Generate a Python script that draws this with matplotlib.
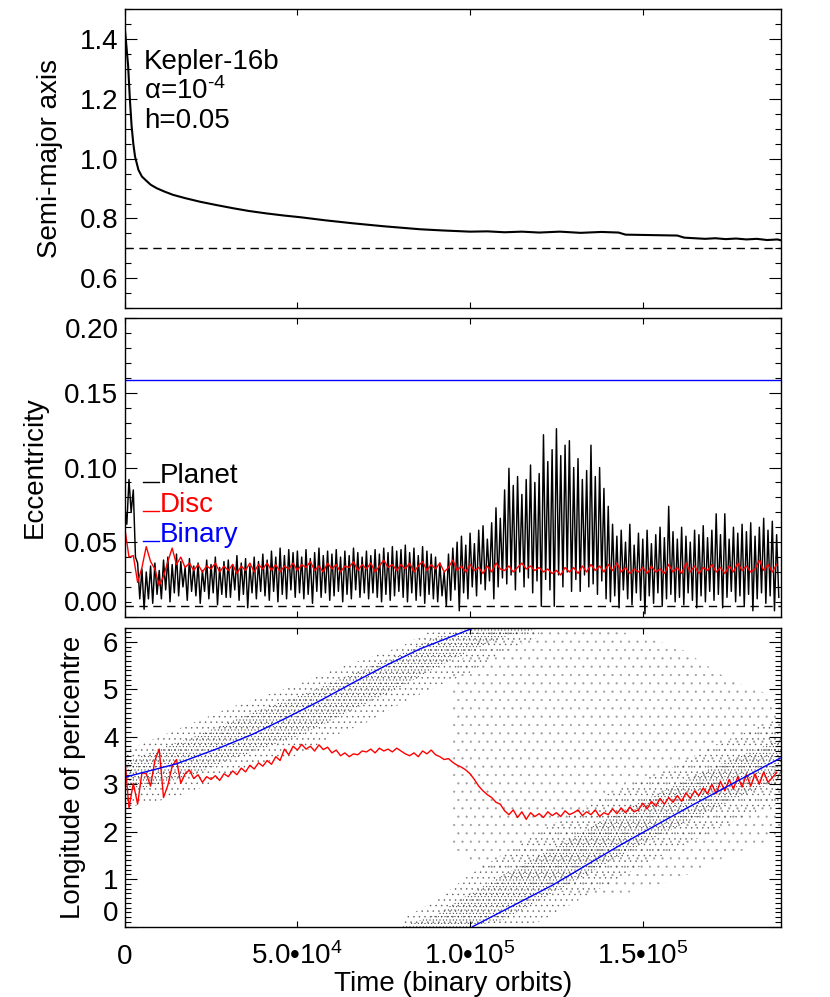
import numpy as np
import matplotlib
matplotlib.use('Agg')
import matplotlib.pyplot as plt
import matplotlib.transforms as mtransforms
from matplotlib.ticker import MultipleLocator, FuncFormatter

plt.rcParams['font.family'] = ['Liberation Sans', 'DejaVu Sans']
plt.rcParams['mathtext.fontset'] = 'custom'
plt.rcParams['mathtext.rm'] = 'Liberation Sans'
plt.rcParams['mathtext.it'] = 'Liberation Sans:italic'
plt.rcParams['hatch.linewidth'] = 0.3
FS = 20

# semi-major axis of the planet ----------------------------------------------------------------------------------------
sma_t = [0, 400, 1000, 1500, 2000, 2500, 3000, 4000, 5000, 6000, 7500, 9300, 11500, 14000, 17500, 21800,
         26500, 31500, 36000, 41000, 46000, 51000, 58000, 66000, 75000, 85500, 92000, 100000, 105000, 110000,
         115000, 120000, 126000, 132000, 138000, 143000, 145000, 150000, 155000, 160000, 162000, 165000, 168000,
         171000, 174000, 177000, 180000, 183000, 186000, 189000, 190000]
sma_a = [1.44, 1.39, 1.31, 1.20, 1.11, 1.05, 1.007, 0.962, 0.940, 0.929, 0.913, 0.901, 0.890, 0.879, 0.868, 0.856,
         0.845, 0.834, 0.825, 0.817, 0.810, 0.804, 0.794, 0.784, 0.774, 0.764, 0.760, 0.756, 0.757, 0.754,
         0.756, 0.753, 0.756, 0.752, 0.755, 0.753, 0.746, 0.745, 0.744, 0.743, 0.736, 0.734, 0.732,
         0.734, 0.731, 0.733, 0.730, 0.732, 0.728, 0.730, 0.727]
sma_ref = 0.7

# eccentricities, sampled every 1250 orbits (planet: peak and trough of each sample) -----------------------------------
ecc_t = np.arange(0, 190000, 1250)
planet_hi = [0.075, 0.092, 0.085, 0.036, 0.032, 0.030, 0.034, 0.036,
             0.031, 0.038, 0.040, 0.035, 0.042, 0.037, 0.033, 0.039,
             0.034, 0.036, 0.031, 0.038, 0.035, 0.040, 0.033, 0.037,
             0.038, 0.035, 0.041, 0.036, 0.039, 0.034, 0.040, 0.037,
             0.042, 0.038, 0.044, 0.040, 0.046, 0.041, 0.045, 0.043,
             0.044, 0.040, 0.045, 0.039, 0.043, 0.046, 0.041, 0.044,
             0.042, 0.045, 0.040, 0.044, 0.041, 0.046, 0.043, 0.040,
             0.044, 0.041, 0.045, 0.042, 0.046, 0.043, 0.047, 0.044,
             0.045, 0.048, 0.043, 0.046, 0.041, 0.047, 0.044, 0.042,
             0.040, 0.036, 0.030, 0.042, 0.046, 0.050, 0.054, 0.048,
             0.056, 0.049, 0.058, 0.061, 0.052, 0.063, 0.073, 0.066,
             0.085, 0.0995, 0.088, 0.094, 0.082, 0.092, 0.1017, 0.090,
             0.096, 0.122, 0.104, 0.112, 0.126, 0.108, 0.115, 0.118,
             0.100, 0.106, 0.092, 0.098, 0.115, 0.094, 0.100, 0.086,
             0.074, 0.062, 0.054, 0.058, 0.050, 0.062, 0.048, 0.056,
             0.052, 0.058, 0.049, 0.055, 0.060, 0.053, 0.074, 0.057,
             0.052, 0.060, 0.054, 0.050, 0.058, 0.055, 0.061, 0.053,
             0.058, 0.069, 0.055, 0.069, 0.052, 0.060, 0.056, 0.062,
             0.057, 0.063, 0.054, 0.060, 0.066, 0.058, 0.064, 0.055]
planet_lo = [0.062, 0.070, 0.040, 0.012, 0.005, 0.012, 0.009, 0.015,
             0.012, 0.018, 0.010, 0.016, 0.014, 0.020, 0.011, 0.017,
             0.014, 0.009, 0.017, 0.012, 0.016, 0.008, 0.015, 0.013,
             0.013, 0.018, 0.011, 0.015, 0.006, 0.016, 0.012, 0.017,
             0.014, 0.011, 0.017, 0.010, 0.015, 0.012, 0.018, 0.013,
             0.016, 0.012, 0.015, 0.009, 0.017, 0.013, 0.016, 0.011,
             0.014, 0.017, 0.010, 0.015, 0.012, 0.018, 0.013, 0.016,
             0.012, 0.016, 0.013, 0.010, 0.015, 0.011, 0.014, 0.017,
             0.013, 0.010, 0.016, 0.011, 0.014, 0.009, 0.015, 0.012,
             0.010, 0.014, 0.007, 0.011, 0.018, 0.004, 0.016, 0.012,
             0.020, 0.014, 0.022, 0.018, 0.024, 0.012, 0.020, 0.026,
             0.022, 0.028, 0.018, 0.030, 0.020, 0.026, 0.016, 0.024,
             0.007, 0.025, 0.018, 0.007, 0.028, 0.020, 0.030, 0.017,
             0.025, 0.017, 0.028, 0.020, 0.022, 0.015, 0.024, 0.012,
             0.010, 0.014, 0.006, 0.018, 0.012, 0.008, 0.016, 0.011,
             0.002, 0.014, 0.009, 0.016, 0.007, 0.012, 0.015, 0.010,
             0.013, 0.008, 0.016, 0.011, 0.006, 0.014, 0.010, 0.017,
             0.011, 0.015, 0.006, 0.013, 0.017, 0.010, 0.014, 0.007,
             0.015, 0.004, 0.012, 0.016, 0.009, 0.014, 0.004, 0.013]
disc_ecc = [0.060, 0.040, 0.041, 0.023, 0.033, 0.047, 0.037, 0.032,
            0.021, 0.027, 0.037, 0.046, 0.035, 0.040, 0.033, 0.036,
            0.031, 0.035, 0.030, 0.034, 0.032, 0.036, 0.030, 0.034,
            0.031, 0.035, 0.029, 0.034, 0.031, 0.036, 0.030, 0.035,
            0.032, 0.036, 0.031, 0.035, 0.030, 0.034, 0.032, 0.036,
            0.031, 0.035, 0.033, 0.037, 0.031, 0.034, 0.030, 0.036,
            0.032, 0.035, 0.030, 0.034, 0.033, 0.037, 0.031, 0.035,
            0.032, 0.036, 0.030, 0.034, 0.038, 0.033, 0.035, 0.031,
            0.035, 0.032, 0.036, 0.030, 0.034, 0.037, 0.031, 0.035,
            0.032, 0.036, 0.030, 0.033, 0.038, 0.031, 0.034, 0.030,
            0.035, 0.031, 0.033, 0.029, 0.034, 0.030, 0.036, 0.032,
            0.031, 0.034, 0.030, 0.033, 0.036, 0.032, 0.034, 0.031,
            0.033, 0.030, 0.032, 0.029, 0.031, 0.028, 0.033, 0.030,
            0.033, 0.029, 0.034, 0.030, 0.035, 0.031, 0.034, 0.030,
            0.035, 0.031, 0.036, 0.030, 0.033, 0.029, 0.032, 0.030,
            0.033, 0.029, 0.034, 0.030, 0.032, 0.029, 0.035, 0.030,
            0.033, 0.029, 0.036, 0.030, 0.034, 0.029, 0.033, 0.031,
            0.035, 0.030, 0.033, 0.029, 0.034, 0.030, 0.036, 0.031,
            0.034, 0.030, 0.032, 0.038, 0.031, 0.035, 0.030, 0.035]
binary_ecc = 0.159
ecc_ref = 0.007

# longitude of pericentre ----------------------------------------------------------------------------------------------
disc_varpi = [3.57, 2.50, 3.02, 2.58, 3.24, 3.22, 2.96, 3.50,
              3.74, 2.72, 2.98, 3.38, 3.52, 3.02, 3.22, 3.30,
              3.12, 3.20, 3.04, 3.16, 3.10, 3.18, 3.08, 3.22,
              3.16, 3.28, 3.20, 3.34, 3.26, 3.40, 3.32, 3.45,
              3.38, 3.50, 3.42, 3.58, 3.50, 3.74, 3.62, 3.80,
              3.72, 3.84, 3.74, 3.80, 3.70, 3.83, 3.73, 3.78,
              3.66, 3.72, 3.60, 3.66, 3.58, 3.64, 3.62, 3.70,
              3.68, 3.74, 3.66, 3.76, 3.70, 3.74, 3.68, 3.76,
              3.70, 3.64, 3.60, 3.66, 3.58, 3.70, 3.64, 3.72,
              3.62, 3.58, 3.52, 3.54, 3.46, 3.40, 3.36, 3.30,
              3.22, 3.10, 2.96, 2.86, 2.78, 2.72, 2.62, 2.58,
              2.44, 2.36, 2.46, 2.30, 2.42, 2.26, 2.40, 2.32,
              2.38, 2.30, 2.42, 2.34, 2.40, 2.32, 2.44, 2.36,
              2.40, 2.46, 2.34, 2.42, 2.36, 2.46, 2.32, 2.40,
              2.36, 2.48, 2.38, 2.50, 2.40, 2.52, 2.42, 2.46,
              2.60, 2.48, 2.64, 2.54, 2.70, 2.58, 2.72, 2.62,
              2.76, 2.64, 2.82, 2.70, 2.86, 2.76, 2.92, 2.80,
              3.00, 2.80, 3.06, 2.86, 3.10, 2.90, 3.16, 2.94,
              3.20, 2.96, 3.22, 3.00, 3.26, 3.04, 3.14, 3.25]

binary_t1 = [0, 15000, 27600, 37300, 46900, 56600, 66200, 75900, 85500, 100700]
binary_w1 = [3.147, 3.43, 3.77, 4.06, 4.40, 4.76, 5.14, 5.51, 5.85, 6.283]
binary_t2 = [100700, 124000, 143500, 162800, 189800]
binary_w2 = [0.0, 0.88, 1.72, 2.50, 3.55]

# planet pericentre cloud: outer and dense edges
cloud1_t = [0, 10000, 20000, 30000, 40000, 50000, 60000, 70000, 80000, 90000, 100000, 110000, 120000]
cloud1_lo = [2.50, 2.65, 2.85, 3.20, 3.45, 3.60, 4.00, 4.30, 4.70, 5.05, 5.35, 5.80, 6.10]
cloud1_hi = [3.70, 4.00, 4.30, 4.60, 4.85, 5.10, 5.40, 5.65, 5.90, 6.283, 6.283, 6.283, 6.283]
core1_lo = [2.85, 3.00, 3.20, 3.50, 3.75, 4.00, 4.35, 4.70, 5.05, 5.45, 5.80, 6.10, 6.283]
core1_hi = [3.45, 3.75, 4.00, 4.30, 4.60, 4.85, 5.15, 5.45, 5.75, 6.10, 6.283, 6.283, 6.283]
cloud2_t = [80000, 90000, 100000, 110000, 120000, 130000, 140000, 150000, 160000, 170000, 180000, 190000]
cloud2_lo = [0.0, 0.0, 0.0, 0.0, 0.10, 0.50, 0.90, 1.30, 1.65, 2.00, 2.35, 2.60]
cloud2_hi = [0.15, 0.55, 1.10, 1.55, 2.00, 2.40, 2.80, 3.10, 3.40, 3.80, 4.10, 4.40]
core2_lo = [0.0, 0.0, 0.0, 0.15, 0.55, 0.95, 1.35, 1.75, 2.10, 2.45, 2.80, 3.10]
core2_hi = [0.0, 0.25, 0.70, 1.10, 1.50, 1.90, 2.30, 2.65, 3.00, 3.35, 3.65, 3.95]
# thinly scattered points between the two bands
sparse_t = [95000, 105000, 120000, 140000, 160000, 175000, 190000]
sparse_lo = [1.6, 1.2, 0.8, 0.6, 1.0, 1.5, 1.9]
sparse_hi = [5.4, 6.283, 6.283, 6.283, 5.9, 5.2, 4.8]

xticks = [0, 50000, 100000, 150000]
xticklabels = ['0', r'5.0•10$^{4}$', r'1.0•10$^{5}$', r'1.5•10$^{5}$']


def style_axis(ax, major, minor, fmt, hide=()):
    ax.set_xlim(0, 190000)
    ax.set_xticks(xticks)
    ax.yaxis.set_major_locator(MultipleLocator(major))
    ax.yaxis.set_minor_locator(MultipleLocator(minor))
    ax.yaxis.set_major_formatter(FuncFormatter(
        lambda v, p: '' if any(abs(v - h) < 1e-9 for h in hide) else fmt % v))
    ax.tick_params(axis='both', which='both', direction='in', top=True, right=True, width=0.8, labelsize=FS)
    ax.tick_params(axis='y', which='major', length=8.5, pad=4.5)
    ax.tick_params(axis='y', which='minor', length=4.3)
    ax.tick_params(axis='x', which='major', length=4.3)
    for s in ax.spines.values():
        s.set_linewidth(1.0)


def end_label(ax, val, txt, va):
    # tick labels at the frame ends sit inside the frame, as IDL draws them
    shift = mtransforms.ScaledTranslation(-4.5 / 72, 0, fig.dpi_scale_trans)
    ax.text(0, val, txt, transform=ax.get_yaxis_transform() + shift, ha='right', va=va, fontsize=FS)


fig = plt.figure(figsize=(8.3, 9.97), dpi=100)
ax1 = fig.add_axes([0.1502, 0.6908, 0.7907, 0.3002])
ax2 = fig.add_axes([0.1502, 0.3814, 0.7907, 0.2993])
ax3 = fig.add_axes([0.1502, 0.0705, 0.7907, 0.2993])

# top: semi-major axis
ax1.plot(sma_t, sma_a, color='black', lw=1.5)
ax1.axhline(sma_ref, color='black', lw=1.0, ls=(0, (6, 4)))
ax1.set_ylim(0.5, 1.5)
style_axis(ax1, 0.2, 0.05, '%.1f')
ax1.set_xticklabels([])
ax1.set_ylabel('Semi-major axis', fontsize=FS, labelpad=12)
for txt, yy in [('Kepler-16b', 0.7985), ('α=10$^{\\mathregular{\u2010}4}$', 0.698), ('h=0.05', 0.601)]:
    ax1.text(0.029, yy, txt, transform=ax1.transAxes, fontsize=FS, va='baseline')

# middle: eccentricities
planet_t = np.column_stack([ecc_t, ecc_t + 625]).ravel()
planet_e = np.column_stack([planet_hi, planet_lo]).ravel()
ax2.plot(planet_t, planet_e, color='black', lw=1.05)
ax2.plot(ecc_t, disc_ecc, color='red', lw=1.0)
ax2.axhline(binary_ecc, color='blue', lw=1.0)
ax2.axhline(ecc_ref, color='black', lw=1.0, ls=(0, (6, 4)))
ax2.set_ylim(0, 0.2)
style_axis(ax2, 0.05, 0.01, '%.2f', hide=(0.0, 0.2))
end_label(ax2, 0.0, '0.00', 'bottom')
end_label(ax2, 0.2, '0.20', 'top')
ax2.set_xticklabels([])
ax2.set_ylabel('Eccentricity', fontsize=FS, labelpad=12)
for name, col, yy in [('Planet', 'black', 0.449), ('Disc', 'red', 0.350), ('Binary', 'blue', 0.251)]:
    ax2.plot([0.0274, 0.0527], [yy + 0.004, yy + 0.004], color=col, lw=1.0, transform=ax2.transAxes)
    ax2.text(0.0538, yy, name, color=col, transform=ax2.transAxes, fontsize=FS, va='baseline')

# bottom: longitude of pericentre
ax3.fill_between(sparse_t, sparse_lo, sparse_hi, facecolor='none', edgecolor='0.6', hatch='..', lw=0)
ax3.fill_between(cloud1_t, cloud1_lo, cloud1_hi, facecolor='none', edgecolor='0.35', hatch='...', lw=0)
ax3.fill_between(cloud2_t, cloud2_lo, cloud2_hi, facecolor='none', edgecolor='0.35', hatch='...', lw=0)
ax3.fill_between(cloud1_t, core1_lo, core1_hi, facecolor='none', edgecolor='0.15', hatch='.....', lw=0)
ax3.fill_between(cloud2_t, core2_lo, core2_hi, facecolor='none', edgecolor='0.15', hatch='.....', lw=0)
ax3.plot(ecc_t, disc_varpi, color='red', lw=1.0)
ax3.plot(binary_t1, binary_w1, color='blue', lw=1.0)
ax3.plot(binary_t2, binary_w2, color='blue', lw=1.0)
ax3.set_ylim(0, 2 * np.pi)
style_axis(ax3, 1, 0.1, '%d', hide=(0.0,))
end_label(ax3, 0.0, '0', 'bottom')
ax3.set_xticklabels(xticklabels)
ax3.tick_params(axis='x', pad=27)
for lab in ax3.get_xticklabels():
    lab.set_va('baseline')
ax3.set_ylabel('Longitude of pericentre', fontsize=FS, labelpad=12)
ax3.set_xlabel('Time (binary orbits)', fontsize=FS)
ax3.xaxis.set_label_coords(0.5, -0.148)

fig.savefig('out.png', dpi=100)
